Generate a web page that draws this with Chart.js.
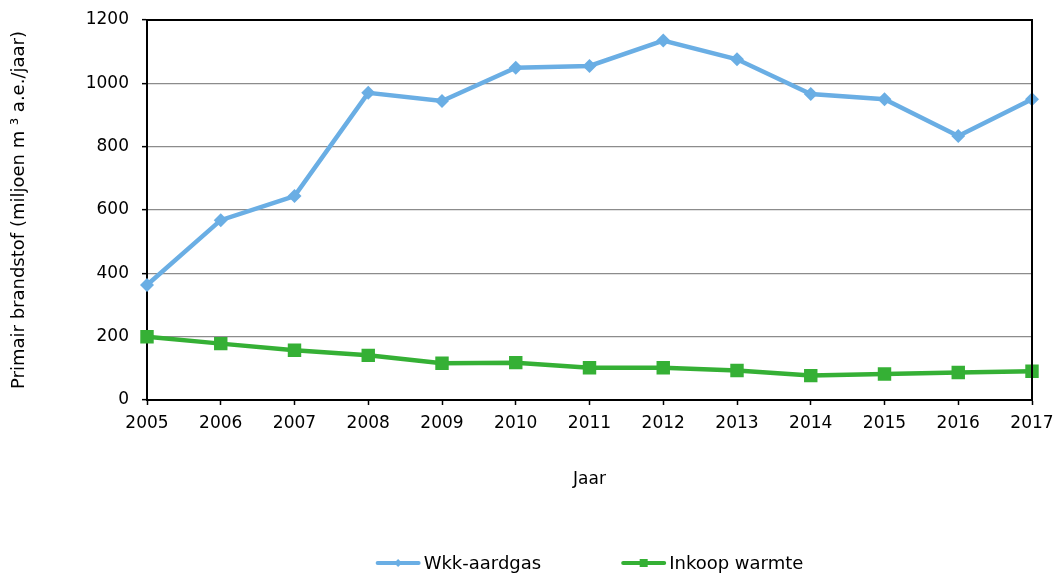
<!DOCTYPE html>
<html>
<head>
<meta charset="utf-8">
<script src="https://cdn.jsdelivr.net/npm/chart.js@4.4.1/dist/chart.umd.min.js"></script>
<style>
  html, body { margin: 0; padding: 0; background: #ffffff; }
  #wrap { width: 1054px; height: 574px; position: relative; }
</style>
</head>
<body>
<div id="wrap"><canvas id="c" width="1054" height="574"></canvas></div>
<script>
const years = ['2005','2006','2007','2008','2009','2010','2011','2012','2013','2014','2015','2016','2017'];
const wkkAardgas = [363, 568, 644, 970, 944, 1049, 1055, 1135, 1076, 966, 950, 834, 950];
const inkoopWarmte = [200, 178, 157, 141, 116, 118, 102, 102, 93, 77, 82, 87, 91];
const seriesNames = ['Wkk-aardgas', 'Inkoop warmte'];
const yTicks = [0, 200, 400, 600, 800, 1000, 1200];
const xTitle = 'Jaar';
const yTitle = 'Primair brandstof (miljoen m \u00B3 a.e./jaar)';

const FONT = '"DejaVu Sans", Verdana, sans-serif';
const BLUE = '#6aaee4';
const GREEN = '#35b035';

const framePlugin = {
  id: 'frame',
  afterDatasetsDraw(chart) {
    const {ctx, chartArea: a} = chart;
    ctx.save();
    ctx.strokeStyle = '#000';
    ctx.lineWidth = 2;
    ctx.beginPath();
    ctx.moveTo(a.left, a.top);
    ctx.lineTo(a.right, a.top);
    ctx.lineTo(a.right, a.bottom);
    ctx.stroke();
    ctx.restore();
  }
};

const legendPlugin = {
  id: 'lineLegend',
  afterDraw(chart) {
    const {ctx, chartArea: a} = chart;
    const lineLen = 45, gap = 3, spacing = 80;
    ctx.save();
    ctx.font = '18px ' + FONT;
    const items = chart.data.datasets.map(ds => ({ds, w: lineLen + gap + ctx.measureText(ds.label).width}));
    const total = items.reduce((s, it) => s + it.w, 0) + spacing * (items.length - 1);
    let x = (a.left + a.right) / 2 - total / 2;
    const y = 563;
    items.forEach(it => {
      const ds = it.ds;
      ctx.strokeStyle = ds.borderColor;
      ctx.lineWidth = 4;
      ctx.lineCap = 'round';
      ctx.beginPath();
      ctx.moveTo(x + 2, y);
      ctx.lineTo(x + lineLen - 2, y);
      ctx.stroke();
      ctx.fillStyle = ds.borderColor;
      const cx = x + lineLen / 2;
      ctx.beginPath();
      if (ds.pointStyle === 'rectRot') {
        ctx.moveTo(cx - 4, y); ctx.lineTo(cx, y - 4); ctx.lineTo(cx + 4, y); ctx.lineTo(cx, y + 4);
      } else {
        ctx.rect(cx - 4, y - 4, 8, 8);
      }
      ctx.closePath();
      ctx.fill();
      ctx.fillStyle = '#000';
      ctx.textBaseline = 'middle';
      ctx.textAlign = 'left';
      ctx.fillText(ds.label, x + lineLen + gap, y + 1);
      x += it.w + spacing;
    });
    ctx.restore();
  }
};

new Chart(document.getElementById('c'), {
  type: 'line',
  data: {
    labels: years,
    datasets: [
      {
        label: seriesNames[0],
        data: wkkAardgas,
        borderColor: BLUE,
        backgroundColor: BLUE,
        borderWidth: 4.5,
        pointStyle: 'rectRot',
        pointRadius: 7,
        pointBorderWidth: 0,
        tension: 0
      },
      {
        label: seriesNames[1],
        data: inkoopWarmte,
        borderColor: GREEN,
        backgroundColor: GREEN,
        borderWidth: 4.5,
        pointStyle: 'rect',
        pointRadius: 9.5,
        pointBorderWidth: 0,
        tension: 0
      }
    ]
  },
  options: {
    responsive: false,
    animation: false,
    devicePixelRatio: 1,
    layout: { padding: { left: 0, top: 20, right: 22, bottom: 80 } },
    plugins: {
      legend: { display: false },
      tooltip: { enabled: false }
    },
    scales: {
      x: {
        type: 'category',
        offset: false,
        grid: { display: true, drawOnChartArea: false, tickLength: 5, tickColor: '#000', tickWidth: 1.5 },
        border: { color: '#000', width: 2 },
        ticks: { color: '#000', font: { family: FONT, size: 17 }, padding: 8, maxRotation: 0, autoSkip: false },
        title: { display: true, text: xTitle, color: '#000', font: { family: FONT, size: 17 }, padding: { top: 4, bottom: 4 } },
        afterFit(scale) { scale.height = 94; scale.paddingLeft = 0; scale.paddingRight = 0; }
      },
      y: {
        min: 0,
        max: 1200,
        afterBuildTicks(scale) { scale.ticks = yTicks.map(v => ({ value: v })); },
        grid: { color: '#8c8c8c', lineWidth: 1.3, tickLength: 5, tickColor: '#000', tickWidth: 1.5 },
        border: { color: '#000', width: 2 },
        ticks: { color: '#000', font: { family: FONT, size: 17 }, padding: 13, callback: v => String(v) },
        title: { display: true, text: yTitle, color: '#000', font: { family: FONT, size: 18 }, padding: { top: 9, bottom: 4 } },
        afterFit(scale) { scale.width = 147; scale.paddingTop = 0; scale.paddingBottom = 0; }
      }
    }
  },
  plugins: [framePlugin, legendPlugin]
});
</script>
</body>
</html>
